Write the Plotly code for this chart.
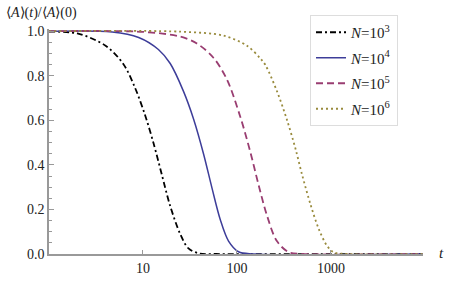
import plotly.graph_objects as go

# N = 10^3 (black, dot-dashed)
t_n3 = [1, 2, 4, 6.2, 8.25, 10.5, 12.96, 15.9, 19.5, 24.9, 30.5, 40, 60, 9500]
v_n3 = [0.998, 0.99, 0.935, 0.852, 0.745, 0.625, 0.497, 0.355, 0.215, 0.09, 0.025, 0.002, 0, 0]

# N = 10^4 (blue, solid)
t_n4 = [1, 4.7, 9, 14.6, 19.5, 27, 34.6, 44.2, 54.2, 66.4, 81.4, 104, 150, 9500]
v_n4 = [1.0, 0.997, 0.972, 0.918, 0.855, 0.73, 0.605, 0.448, 0.297, 0.155, 0.058, 0.01, 0, 0]

# N = 10^5 (magenta, dashed)
t_n5 = [1, 10, 24.9, 37.5, 56.5, 78.5, 108.7, 139, 170, 209, 266, 356, 500, 9500]
v_n5 = [1.0, 0.997, 0.976, 0.945, 0.88, 0.782, 0.615, 0.457, 0.31, 0.172, 0.058, 0.008, 0, 0]

# N = 10^6 (gold, dotted)
t_n6 = [1, 25, 72, 128, 177, 201, 267, 342, 420, 494, 607, 743, 915, 1070, 1500, 9500]
v_n6 = [1.0, 0.998, 0.98, 0.935, 0.878, 0.848, 0.73, 0.6, 0.472, 0.355, 0.222, 0.112, 0.035, 0.008, 0, 0]

names = ["<i>N</i>=10<sup>3</sup>", "<i>N</i>=10<sup>4</sup>",
         "<i>N</i>=10<sup>5</sup>", "<i>N</i>=10<sup>6</sup>"]
colors = ["#000000", "#3d3d99", "#993d71", "#998b3d"]
dashes = ["6px,3px,2px,3px", "solid", "7px,4px", "2px,3px"]

x_ticks = [10, 100, 1000]
x_tick_text = ["10", "100", "1000"]
y_ticks = [0, 0.2, 0.4, 0.6, 0.8, 1.0]
y_tick_text = ["0.0", "0.2", "0.4", "0.6", "0.8", "1.0"]

FONT = "Liberation Serif, Times New Roman, serif"

# plot-area geometry (pixels)
L, R, T, B = 49, 34, 29, 30
W = 457 - L - R
H = 284 - T - B

fig = go.Figure()
for i, (t, v) in enumerate([(t_n3, v_n3), (t_n4, v_n4), (t_n5, v_n5), (t_n6, v_n6)]):
    fig.add_trace(go.Scatter(
        x=t, y=v, mode="lines", name=names[i], legendgroup=str(i),
        line=dict(color=colors[i], width=1.8 if i != 1 else 1.5,
                  dash=dashes[i], shape="spline", smoothing=0.9),
    ))

fig.update_layout(
    width=457, height=284,
    margin=dict(l=L, r=R, t=T, b=B, autoexpand=False),
    paper_bgcolor="white", plot_bgcolor="white",
    font=dict(family=FONT, size=14, color="#222"),
    showlegend=True,
    legend=dict(
        x=(310 - L) / W, y=(284 - B - 15) / H, xanchor="left", yanchor="top",
        xref="paper", yref="paper",
        bgcolor="white", bordercolor="#dddddd", borderwidth=1,
        font=dict(family=FONT, size=15, color="#222"),
        tracegroupgap=3, itemwidth=30,
    ),
    xaxis=dict(
        type="log", range=[0, 3.98],
        tickvals=x_ticks, ticktext=x_tick_text,
        ticks="inside", ticklen=4, tickcolor="#999", tickwidth=1,
        showline=True, linecolor="#999", linewidth=1.5,
        showgrid=False, zeroline=False,
        tickfont=dict(family=FONT, size=14, color="#222"),
    ),
    yaxis=dict(
        range=[0, 1.01],
        tickvals=y_ticks, ticktext=y_tick_text,
        ticks="inside", ticklen=5, tickcolor="#999", tickwidth=1,
        minor=dict(dtick=0.05, tick0=0, ticks="inside", ticklen=3, tickcolor="#999", tickwidth=1),
        showline=True, linecolor="#999", linewidth=1.5,
        showgrid=False, zeroline=False,
        tickfont=dict(family=FONT, size=14, color="#222"),
    ),
    annotations=[
        dict(text="⟨<i>A</i>⟩(<i>t</i>)/⟨<i>A</i>⟩(0)",
             x=(4 - L) / W, y=(284 - B - 13) / H, xref="paper", yref="paper",
             showarrow=False, xanchor="left", yanchor="middle",
             font=dict(family=FONT, size=14, color="#222")),
        dict(text="<i>t</i>", x=(441 - L) / W, y=(284 - B - 253) / H,
             xref="paper", yref="paper",
             showarrow=False, xanchor="center", yanchor="middle",
             font=dict(family=FONT, size=15, color="#222")),
    ],
)

fig.write_html("out.html",
               config={"displayModeBar": False},
               post_script="document.body.style.margin='0';document.body.style.padding='0';")
